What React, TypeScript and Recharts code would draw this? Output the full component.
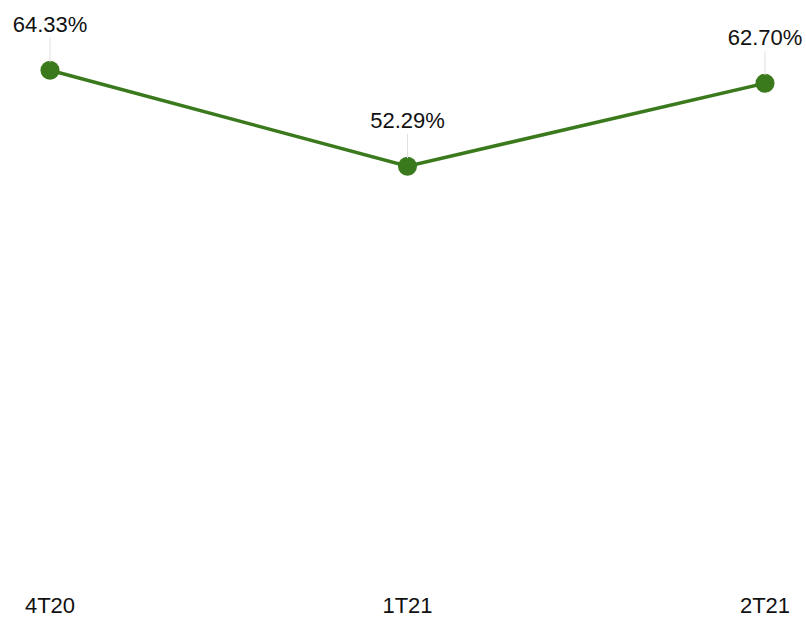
import { LineChart, Line, XAxis, YAxis } from "recharts";

const quarters = ["4T20", "1T21", "2T21"];
const rates = [64.33, 52.29, 62.7];

const data = quarters.map((q, i) => ({ name: q, value: rates[i] }));

const GREEN = "#3a7a1c";

const PointLabel = (props: any) => {
  const { x, y, value } = props;
  return (
    <g>
      <line x1={x} x2={x} y1={y - 8} y2={y - 32} stroke="#e0e0e0" strokeWidth={1} />
      <text x={x} y={y - 38} textAnchor="middle" fontSize={22} fill="#111">
        {`${value.toFixed(2)}%`}
      </text>
    </g>
  );
};

const App = () => {
  return (
    <div
      style={{
        position: "absolute",
        left: 0,
        top: 0,
        fontFamily: "'Liberation Sans', Arial, sans-serif",
      }}
    >
      <LineChart width={806} height={618} data={data} margin={{ top: 25, right: 41, bottom: 0, left: 50 }}>
        <XAxis
          dataKey="name"
          axisLine={false}
          tickLine={false}
          tickMargin={8}
          height={35}
          tick={{ fontSize: 22, fill: "#111" }}
        />
        <YAxis hide domain={[0, 70]} />
        <Line
          type="linear"
          dataKey="value"
          stroke={GREEN}
          strokeWidth={3.5}
          dot={{ r: 9.5, fill: GREEN, stroke: GREEN, strokeWidth: 0 }}
          activeDot={false}
          label={<PointLabel />}
          isAnimationActive={false}
        />
      </LineChart>
    </div>
  );
};

export default App;
